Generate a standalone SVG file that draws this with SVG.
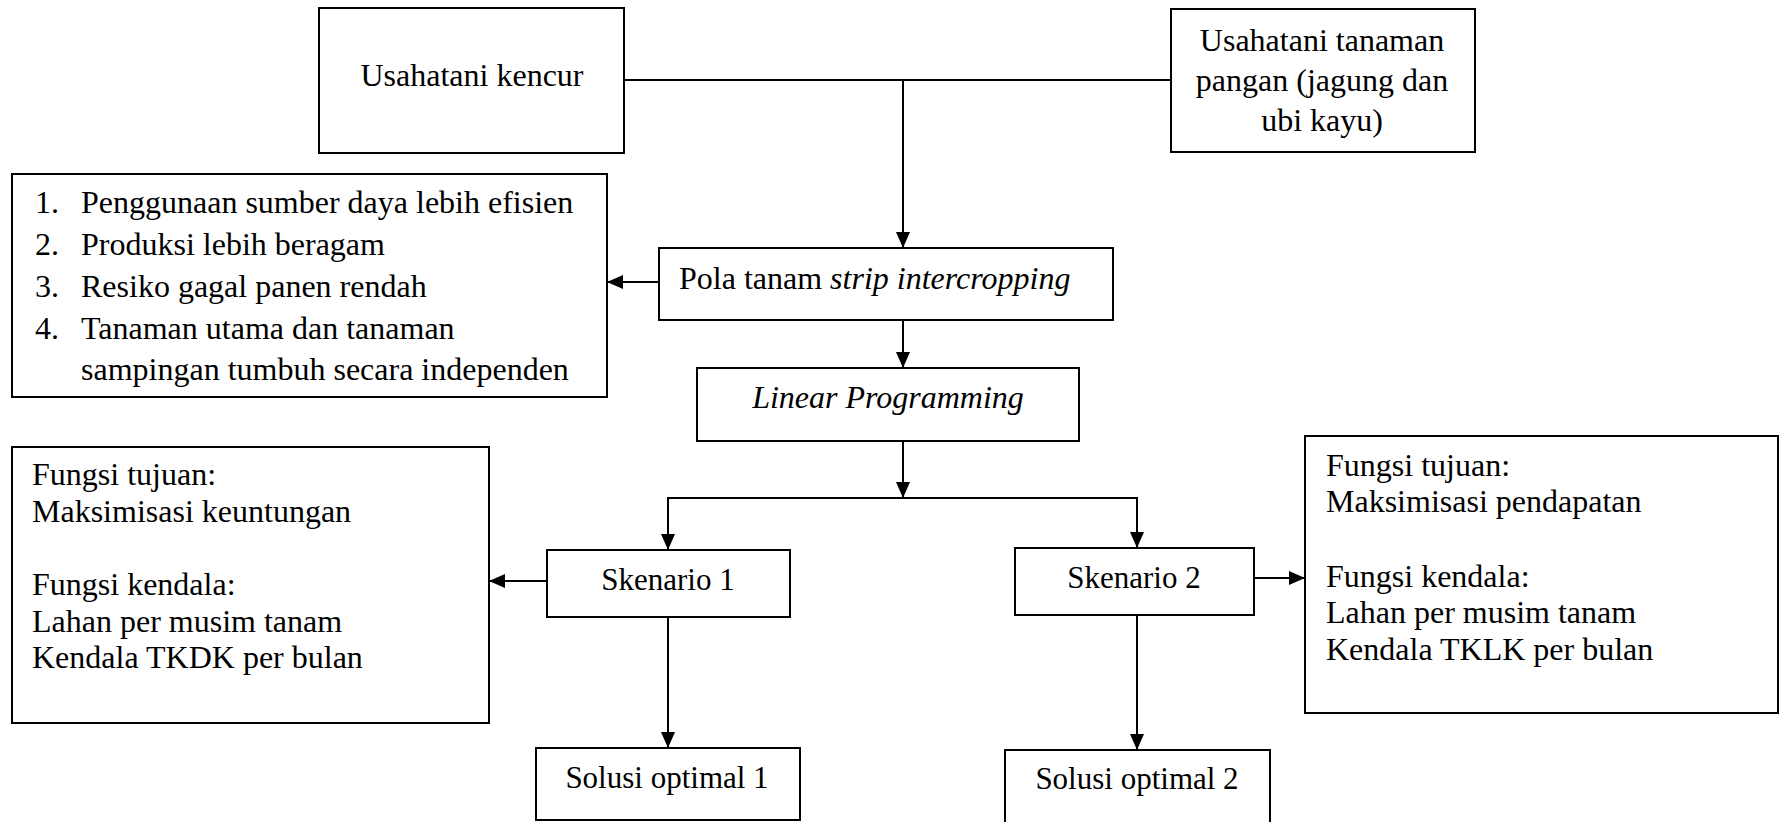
<svg xmlns="http://www.w3.org/2000/svg" width="1780" height="822" viewBox="0 0 1780 822">
<defs>
<style>
.box{fill:#fff;stroke:#000;stroke-width:2}
.t{font-size:32px;fill:#000}
.c{text-anchor:middle}
.s{font-size:31px}
.i{font-style:italic}
.ln{fill:none;stroke:#000;stroke-width:2}
</style>
<marker id="ah" viewBox="0 0 16 14" refX="16" refY="7" markerWidth="16" markerHeight="14" markerUnits="userSpaceOnUse" orient="auto">
<path d="M0,0 L16,7 L0,14 Z" fill="#000"/>
</marker>
</defs>
<rect width="1780" height="822" fill="#fff"/>

<g id="connectors">
<line class="ln" x1="624" y1="80" x2="1171" y2="80"/>
<line class="ln" x1="903" y1="80" x2="903" y2="248" marker-end="url(#ah)"/>
<line class="ln" x1="659" y1="282" x2="607" y2="282" marker-end="url(#ah)"/>
<line class="ln" x1="903" y1="320" x2="903" y2="368" marker-end="url(#ah)"/>
<line class="ln" x1="903" y1="441" x2="903" y2="498" marker-end="url(#ah)"/>
<line class="ln" x1="668" y1="498" x2="1137" y2="498"/>
<line class="ln" x1="668" y1="497" x2="668" y2="550" marker-end="url(#ah)"/>
<line class="ln" x1="1137" y1="497" x2="1137" y2="548" marker-end="url(#ah)"/>
<line class="ln" x1="547" y1="581" x2="489" y2="581" marker-end="url(#ah)"/>
<line class="ln" x1="1254" y1="578" x2="1305" y2="578" marker-end="url(#ah)"/>
<line class="ln" x1="668" y1="617" x2="668" y2="748" marker-end="url(#ah)"/>
<line class="ln" x1="1137" y1="615" x2="1137" y2="750" marker-end="url(#ah)"/>
</g>

<g font-family="Liberation Serif, serif">
<g id="kencur">
<rect class="box" x="319" y="8" width="305" height="145"/>
<text class="t c" x="472" y="86">Usahatani kencur</text>
</g>

<g id="pangan">
<rect class="box" x="1171" y="9" width="304" height="143"/>
<text class="t c" x="1322" y="51">Usahatani tanaman</text>
<text class="t c" x="1322" y="91">pangan (jagung dan</text>
<text class="t c" x="1322" y="131">ubi kayu)</text>
</g>

<g id="manfaat">
<rect class="box" x="12" y="174" width="595" height="223"/>
<text class="t" x="35" y="213">1.</text><text class="t" x="81" y="213">Penggunaan sumber daya lebih efisien</text>
<text class="t" x="35" y="255">2.</text><text class="t" x="81" y="255">Produksi lebih beragam</text>
<text class="t" x="35" y="297">3.</text><text class="t" x="81" y="297">Resiko gagal panen rendah</text>
<text class="t" x="35" y="339">4.</text><text class="t" x="81" y="339">Tanaman utama dan tanaman</text>
<text class="t" x="81" y="380">sampingan tumbuh secara independen</text>
</g>

<g id="pola">
<rect class="box" x="659" y="248" width="454" height="72"/>
<text class="t" x="679" y="289">Pola tanam <tspan class="i">strip intercropping</tspan></text>
</g>

<g id="lp">
<rect class="box" x="697" y="368" width="382" height="73"/>
<text class="t c i" x="888" y="408">Linear Programming</text>
</g>

<g id="fungsi1">
<rect class="box" x="12" y="447" width="477" height="276"/>
<text class="t" x="32" y="485">Fungsi tujuan:</text>
<text class="t" x="32" y="522">Maksimisasi keuntungan</text>
<text class="t" x="32" y="595">Fungsi kendala:</text>
<text class="t" x="32" y="632">Lahan per musim tanam</text>
<text class="t" x="32" y="668">Kendala TKDK per bulan</text>
</g>

<g id="skenario1">
<rect class="box" x="547" y="550" width="243" height="67"/>
<text class="t s c" x="668" y="590">Skenario 1</text>
</g>

<g id="skenario2">
<rect class="box" x="1015" y="548" width="239" height="67"/>
<text class="t s c" x="1134" y="588">Skenario 2</text>
</g>

<g id="fungsi2">
<rect class="box" x="1305" y="436" width="473" height="277"/>
<text class="t" x="1326" y="476">Fungsi tujuan:</text>
<text class="t" x="1326" y="512">Maksimisasi pendapatan</text>
<text class="t" x="1326" y="587">Fungsi kendala:</text>
<text class="t" x="1326" y="623">Lahan per musim tanam</text>
<text class="t" x="1326" y="660">Kendala TKLK per bulan</text>
</g>

<g id="solusi1">
<rect class="box" x="536" y="748" width="264" height="72"/>
<text class="t s c" x="667" y="788">Solusi optimal 1</text>
</g>

<g id="solusi2">
<rect class="box" x="1005" y="750" width="265" height="80"/>
<text class="t s c" x="1137" y="789">Solusi optimal 2</text>
</g>
</g>
</svg>
